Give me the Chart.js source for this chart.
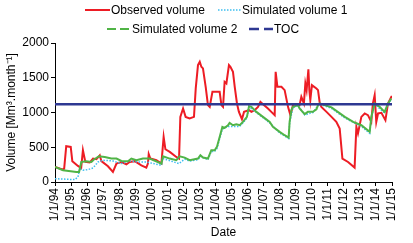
<!DOCTYPE html>
<html><head><meta charset="utf-8">
<script src="https://cdn.jsdelivr.net/npm/chart.js@4.4.0/dist/chart.umd.min.js"></script>
<style>html,body{margin:0;padding:0;background:#fff}#wrap{width:413px;height:243px}</style>
</head><body><div id="wrap"><canvas id="c"></canvas></div>
<script>
const xTickLabels = ['1/1/94','1/1/95','1/1/96','1/1/97','1/1/98','1/1/99','1/1/00','1/1/01','1/1/02','1/1/03','1/1/04','1/1/05','1/1/06','1/1/07','1/1/08','1/1/09','1/1/10','1/1/11','1/1/12','1/1/13','1/1/14','1/1/15'];
const yTickLabels = ['0','500','1000','1500','2000'];
const seriesNames = ['Observed volume','Simulated volume 1','Simulated volume 2','TOC'];

const obsYears = [1994.0,1994.46,1994.57,1994.70,1994.98,1995.08,1995.43,1995.63,1995.74,1995.89,1996.16,1996.37,1996.58,1996.79,1996.89,1997.30,1997.61,1997.83,1998.14,1998.45,1998.65,1998.97,1999.38,1999.69,1999.79,1999.84,1999.94,2000.32,2000.63,2000.77,2000.88,2001.15,2001.56,2001.73,2001.81,2001.98,2002.14,2002.39,2002.66,2002.77,2002.91,2003.02,2003.12,2003.22,2003.39,2003.53,2003.64,2003.81,2004.16,2004.26,2004.37,2004.47,2004.57,2004.68,2004.84,2004.93,2005.09,2005.20,2005.34,2005.46,2005.65,2005.78,2006.09,2006.24,2006.44,2006.65,2006.80,2006.96,2007.27,2007.48,2007.69,2007.75,2007.86,2008.11,2008.31,2008.52,2008.67,2008.83,2009.00,2009.24,2009.35,2009.51,2009.60,2009.68,2009.79,2009.85,2009.91,2010.01,2010.29,2010.39,2010.50,2010.60,2010.92,2011.23,2011.53,2011.74,2011.91,2012.26,2012.67,2012.78,2012.88,2013.09,2013.30,2013.50,2013.71,2013.81,2013.92,2014.02,2014.13,2014.34,2014.59,2014.75,2014.96,2015.0];
const obsValues = [216,180,190,515,505,300,231,200,457,290,280,337,327,385,300,226,144,265,288,255,288,300,240,207,265,400,337,313,265,650,471,433,360,337,937,1058,937,914,937,1347,1683,1730,1658,1635,1370,1106,1081,1298,1298,1298,1106,1081,1442,1419,1683,1658,1586,1370,1130,1009,904,1009,1034,1009,1034,1081,1154,1120,1058,1009,962,1586,1370,1370,1322,1081,962,1106,1120,1106,1226,1130,1419,1322,1621,1322,1178,1394,1346,1322,1130,1081,1009,937,865,770,337,288,207,793,698,937,986,962,865,1130,1250,865,986,995,890,1130,1226,1226];

const sim1Years = [1994.0,1995.23,1995.43,1995.54,1995.74,1996.06,1996.37,1996.68,1996.99,1997.61,1998.14,1998.65,1999.17,1999.69,2000.63,2000.73,2001.73,2002.08,2002.39,2002.91,2003.06,2003.53,2003.74,2003.95,2004.09,2004.26,2004.43,2004.78,2005.09,2005.51,2005.71,2005.96,2006.09,2006.55,2006.96,2007.38,2008.00,2008.56,2008.62,2008.83,2009.14,2009.56,2010.07,2010.39,2010.50,2011.23,2012.06,2013.09,2013.61,2013.71,2013.92,2014.54,2014.75,2014.96];
const sim1Values = [48,34,72,193,169,179,202,288,313,303,265,303,288,288,240,337,265,330,300,320,370,320,440,440,480,620,760,800,800,800,850,920,1080,1000,925,850,705,625,850,1070,1100,965,1000,1100,1120,1060,920,800,700,920,1120,990,1110,1190];

const sim2Years = [1994.0,1994.50,1995.33,1995.50,1995.64,1995.96,1996.27,1996.41,1996.74,1997.10,1997.51,1997.83,1998.14,1998.55,1998.76,1999.07,1999.48,1999.90,2000.63,2000.73,2001.15,2001.56,2001.77,2002.08,2002.39,2002.91,2003.06,2003.22,2003.53,2003.74,2003.95,2004.09,2004.26,2004.43,2004.57,2004.78,2004.88,2005.09,2005.30,2005.51,2005.71,2005.96,2006.09,2006.24,2006.55,2006.96,2007.38,2007.58,2008.00,2008.31,2008.56,2008.62,2008.73,2008.83,2009.14,2009.24,2009.56,2009.76,2010.07,2010.29,2010.39,2010.50,2011.23,2012.06,2012.58,2013.09,2013.61,2013.71,2013.92,2014.23,2014.54,2014.75,2014.96];
const sim2Values = [216,169,144,144,288,298,288,320,370,360,337,337,303,298,337,313,337,337,265,370,337,313,370,351,313,337,385,351,337,457,457,505,649,793,779,817,851,817,832,817,865,937,1091,1081,1009,937,865,793,721,673,640,865,1034,1081,1106,1058,976,1009,1009,1044,1106,1130,1073,937,865,817,721,937,1130,1081,1009,1130,1202];

const tocYears = [1994, 2015];
const tocValues = [1120, 1120];

const pts = (xs, ys) => xs.map((x, i) => ({x: x, y: ys[i]}));

const colors = ['rgb(237,28,36)','rgb(60,190,240)','rgb(80,180,70)','rgb(46,56,146)'];
const legendDash = [[], [1.5,1.5], [9,4], [10,5]];
const legendWidth = [2, 1.5, 2, 2.5];
const legendPos = [{x1:85,x2:110,y:10},{x1:218,x2:241,y:10},{x1:107,x2:131,y:29},{x1:249,x2:273,y:29}];

const legendPlugin = {
  id: 'customLegend',
  afterDraw(chart) {
    const ctx = chart.ctx;
    ctx.save();
    ctx.font = '12px "Liberation Sans", Arial, sans-serif';
    ctx.textBaseline = 'middle';
    ctx.fillStyle = '#000';
    seriesNames.forEach((name, i) => {
      const p = legendPos[i];
      ctx.strokeStyle = colors[i];
      ctx.lineWidth = legendWidth[i];
      ctx.setLineDash(legendDash[i]);
      ctx.beginPath();
      ctx.moveTo(p.x1, p.y);
      ctx.lineTo(p.x2, p.y);
      ctx.stroke();
      ctx.setLineDash([]);
      ctx.fillText(name, p.x2 + 1, p.y + 1);
    });
    ctx.restore();
  }
};

const font = {family: '"Liberation Sans", Arial, sans-serif', size: 12};

new Chart(document.getElementById('c'), {
  type: 'line',
  data: {
    datasets: [
      {label: seriesNames[0], data: pts(obsYears, obsValues), borderColor: colors[0], borderWidth: 2, pointRadius: 0, tension: 0, order: 4},
      {label: seriesNames[1], data: pts(sim1Years, sim1Values), borderColor: colors[1], borderWidth: 1.5, borderDash: [1.5,1.5], pointRadius: 0, tension: 0, order: 3},
      {label: seriesNames[2], data: pts(sim2Years, sim2Values), borderColor: colors[2], borderWidth: 2, pointRadius: 0, tension: 0, order: 2},
      {label: seriesNames[3], data: pts(tocYears, tocValues), borderColor: colors[3], borderWidth: 2.5, pointRadius: 0, tension: 0, order: 1}
    ]
  },
  options: {
    responsive: true,
    maintainAspectRatio: false,
    animation: false,
    events: [],
    layout: {padding: {top: 43, right: 21, left: 0, bottom: 0}},
    plugins: {legend: {display: false}, tooltip: {enabled: false}},
    scales: {
      x: {
        type: 'linear', min: 1994, max: 2015,
        afterFit(s) { s.height = 61; },
        ticks: {stepSize: 1, autoSkip: false, minRotation: 90, maxRotation: 90, color: '#000', font: font, padding: 2,
          callback: (v) => xTickLabels[Math.round(v - 1994)]},
        grid: {drawOnChartArea: false, drawTicks: true, tickLength: 4, color: '#000'},
        border: {color: '#000', width: 1},
        title: {display: true, text: 'Date', color: '#000', font: font, padding: {top: 2, bottom: 3}}
      },
      y: {
        min: 0, max: 2000,
        afterFit(s) { s.width = 55; },
        ticks: {stepSize: 500, color: '#000', font: font, padding: 2,
          callback: (v) => yTickLabels[Math.round(v / 500)]},
        grid: {drawOnChartArea: false, drawTicks: true, tickLength: 4, color: '#000'},
        border: {color: '#000', width: 1},
        title: {display: true, text: 'Volume [Mm³.month⁻¹]', color: '#000', font: font, padding: {top: 4, bottom: 2}}
      }
    }
  },
  plugins: [legendPlugin]
});
</script></body></html>
